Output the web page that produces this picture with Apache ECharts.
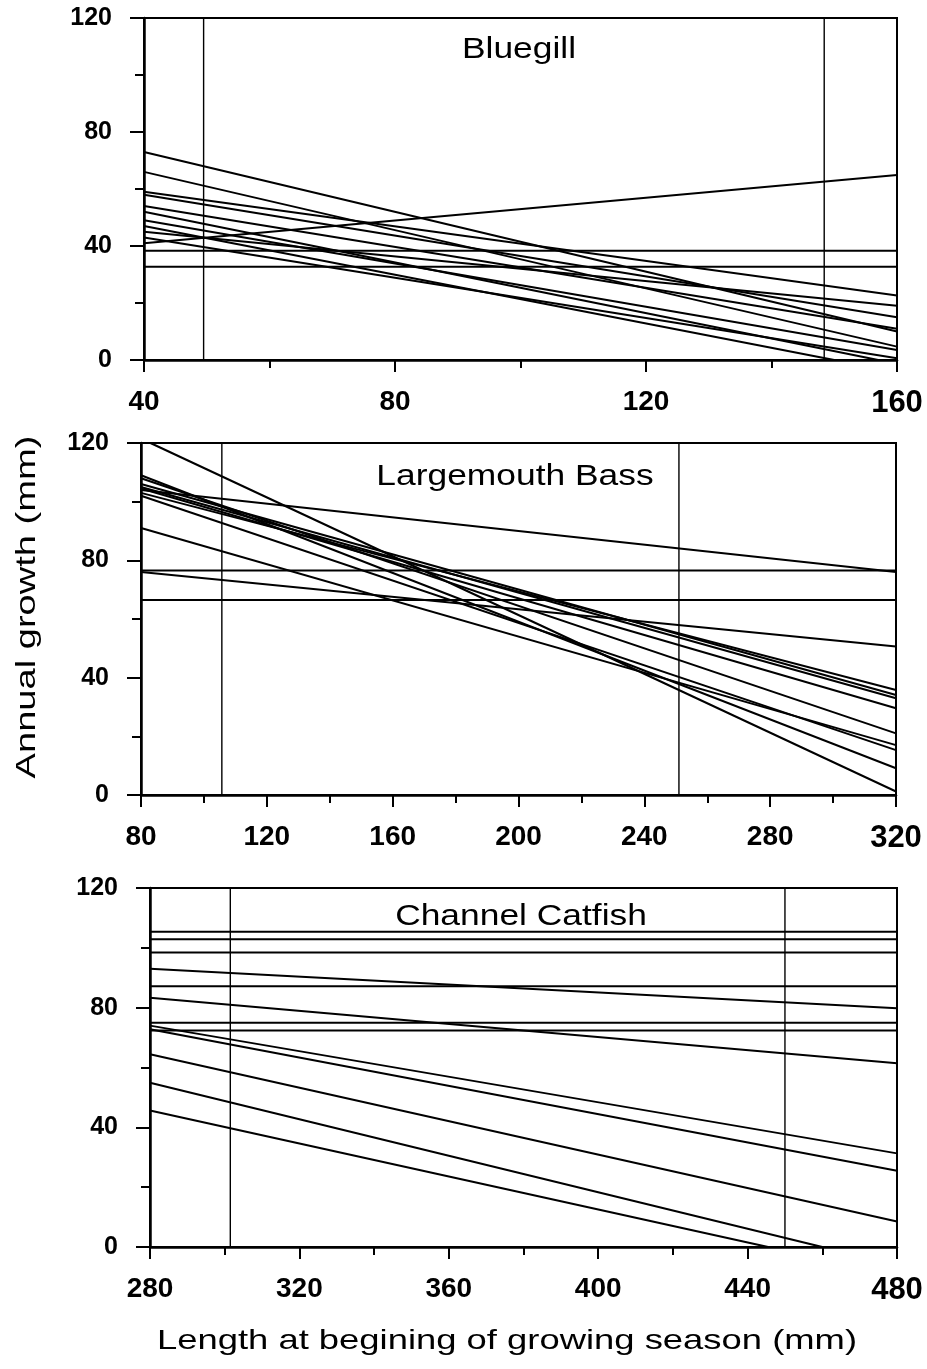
<!DOCTYPE html>
<html>
<head>
<meta charset="utf-8">
<script src="https://cdn.jsdelivr.net/npm/echarts@6/dist/echarts.min.js"></script>
<style>
  html, body { margin: 0; padding: 0; background: #fff; }
  #chart { width: 927px; height: 1369px; }
</style>
</head>
<body>
<div id="chart"></div>
<script>
// each line: [x start, y start, x end, y end]
const bluegillLines = [
  [40, 73, 160, 10],
  [40, 66, 160, 4.7],
  [40, 59, 160, 22.6],
  [40, 58, 160, 15],
  [40, 54, 160, 11],
  [40, 52, 157, 0],
  [40, 49, 160, 3.5],
  [40, 47, 150, 0],
  [40, 45, 160, 19],
  [40, 43, 160, 0.6],
  [40, 41, 160, 64.9],
  [40, 38.3, 160, 38.3],
  [40, 32.7, 160, 32.7]
]
const bluegillRefs = [49.5, 148.4]

const bassLines = [
  [83, 120, 320, 1.2],
  [80, 104, 320, 76],
  [80, 76, 320, 50.6],
  [80, 91, 320, 17],
  [80, 109, 320, 9.1],
  [80, 108, 320, 21],
  [80, 105, 320, 33],
  [80, 104.5, 320, 29.6],
  [80, 103, 320, 35.8],
  [80, 106, 320, 34.1],
  [80, 102, 320, 15.3],
  [80, 76.5, 320, 76.5],
  [80, 66.5, 320, 66.5]
]
const bassRefs = [105.7, 251]

const catfishLines = [
  [280, 105.4, 480, 105.4],
  [280, 102.9, 480, 102.9],
  [280, 98.4, 480, 98.4],
  [280, 87.2, 480, 87.2],
  [280, 75, 480, 75],
  [280, 72.4, 480, 72.4],
  [280, 93, 480, 79.8],
  [280, 83.3, 480, 61.4],
  [280, 74, 480, 31.3],
  [280, 72.8, 480, 25.5],
  [280, 64.4, 480, 8.5],
  [280, 54.9, 460, 0],
  [280, 45.6, 445.5, 0]
]
const catfishRefs = [301.5, 450]

const panels = [
  { title: 'Bluegill', lines: bluegillLines, refs: bluegillRefs, xMin: 40, xMax: 160,
    grid: { left: 144, top: 18, width: 753, height: 342 }, titleX: 519, titleY: 50 },
  { title: 'Largemouth Bass', lines: bassLines, refs: bassRefs, xMin: 80, xMax: 320,
    grid: { left: 141, top: 443, width: 755, height: 352 }, titleX: 515, titleY: 477 },
  { title: 'Channel Catfish', lines: catfishLines, refs: catfishRefs, xMin: 280, xMax: 480,
    grid: { left: 150, top: 888, width: 747, height: 359 }, titleX: 521, titleY: 917 }
]

const black = '#000'
const font = '"Liberation Sans", Arial, sans-serif'

const option = {
  animation: false,
  backgroundColor: '#fff',
  grid: [],
  xAxis: [],
  yAxis: [],
  series: [],
  graphic: []
}

panels.forEach((p, i) => {
  option.grid.push(Object.assign({ show: true, borderColor: black, borderWidth: 2 }, p.grid))
  option.xAxis.push({
    type: 'value',
    gridIndex: i,
    min: p.xMin,
    max: p.xMax,
    interval: 40,
    axisLine: { lineStyle: { color: black, width: 2.5 } },
    axisTick: { length: 12, lineStyle: { color: black, width: 2 } },
    minorTick: { show: true, splitNumber: 2, length: 8, lineStyle: { color: black, width: 2 } },
    splitLine: { show: false },
    axisLabel: {
      color: black,
      fontFamily: font,
      fontSize: 28,
      fontWeight: 'bold',
      margin: 28,
      formatter: v => (v === p.xMax ? '{b|' + v + '}' : String(v)),
      rich: { b: { fontFamily: font, fontSize: 31, fontWeight: 900, color: black } }
    }
  })
  option.yAxis.push({
    type: 'value',
    gridIndex: i,
    min: 0,
    max: 120,
    interval: 40,
    axisLine: { lineStyle: { color: black, width: 2.5 } },
    axisTick: { length: 14, lineStyle: { color: black, width: 2 } },
    minorTick: { show: true, splitNumber: 2, length: 9, lineStyle: { color: black, width: 2 } },
    splitLine: { show: false },
    axisLabel: { color: black, fontFamily: font, fontSize: 25, fontWeight: 'bold', margin: 32 }
  })
  p.lines.forEach(l => {
    option.series.push({
      type: 'line',
      xAxisIndex: i,
      yAxisIndex: i,
      data: [[l[0], l[1]], [l[2], l[3]]],
      showSymbol: false,
      silent: true,
      lineStyle: { color: black, width: 2 }
    })
  })
  p.refs.forEach(x => {
    option.series.push({
      type: 'line',
      xAxisIndex: i,
      yAxisIndex: i,
      data: [[x, 0], [x, 120]],
      showSymbol: false,
      silent: true,
      lineStyle: { color: black, width: 1.4 }
    })
  })
  option.graphic.push({
    type: 'text',
    x: p.titleX,
    y: p.titleY,
    scaleX: 1.22,
    style: { text: p.title, font: '29px ' + font, fill: black, align: 'center', verticalAlign: 'middle' }
  })
})

option.graphic.push({
  type: 'text',
  x: 507,
  y: 1341,
  scaleX: 1.3,
  style: {
    text: 'Length at begining of growing season (mm)',
    font: '28px ' + font,
    fill: black,
    align: 'center',
    verticalAlign: 'middle'
  }
})
option.graphic.push({
  type: 'text',
  x: 27,
  y: 607,
  rotation: Math.PI / 2,
  scaleX: 1.36,
  style: {
    text: 'Annual growth (mm)',
    font: '28px ' + font,
    fill: black,
    align: 'center',
    verticalAlign: 'middle'
  }
})

const chart = echarts.init(document.getElementById('chart'))
chart.setOption(option)
</script>
</body>
</html>
